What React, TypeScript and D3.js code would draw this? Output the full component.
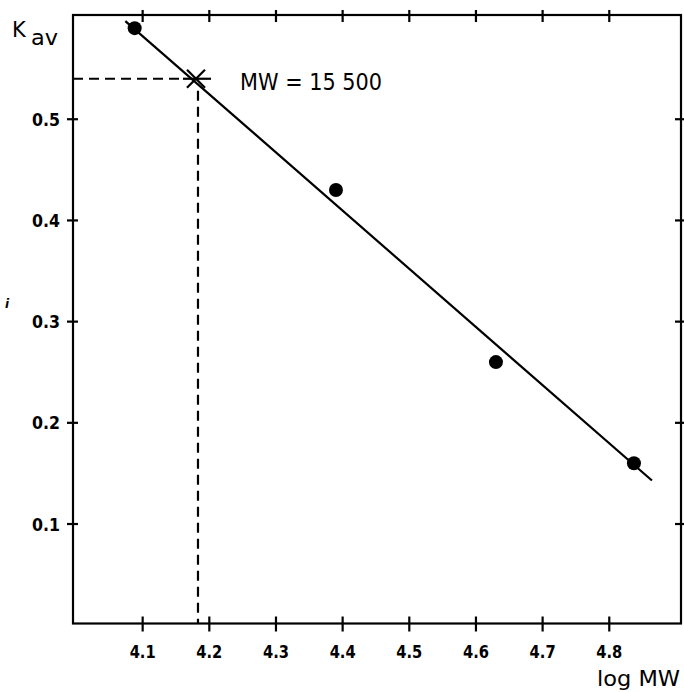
import React from "react";
import * as d3 from "d3";

const xTicks = [4.1, 4.2, 4.3, 4.4, 4.5, 4.6, 4.7, 4.8];
const yTicks = [0.1, 0.2, 0.3, 0.4, 0.5];
const pointsLogMW = [4.088, 4.39, 4.63, 4.837];
const pointsKav = [0.59, 0.43, 0.26, 0.16];
const fitLogMW = [4.074, 4.864];
const fitKav = [0.597, 0.143];
const markLogMW = 4.18;
const markKav = 0.54;
const markLabel = "MW = 15 500";
const xDomain = [3.9955, 4.9076];
const yDomain = [0.0017, 0.603];

const W = 684;
const H = 692;

export default function App() {
  const x = d3.scaleLinear().domain(xDomain).range([73, 681]);
  const y = d3.scaleLinear().domain(yDomain).range([623.5, 15]);
  const x0 = x(xDomain[0]);
  const x1 = x(xDomain[1]);
  const yTop = y(yDomain[1]);
  const yBot = y(yDomain[0]);
  const line = d3
    .line<number>()
    .x((d) => x(fitLogMW[d]))
    .y((d) => y(fitKav[d]));
  const mx = x(markLogMW);
  const my = y(markKav);
  const labelFont = "'DejaVu Sans', 'Liberation Sans', sans-serif";
  const sw = 2.2;
  return (
    <svg
      width={W}
      height={H}
      style={{ position: "absolute", left: 0, top: 0, background: "#fff" }}
    >
      <rect x={0} y={0} width={W} height={H} fill="#fff" />
      {/* frame */}
      <rect
        x={x0}
        y={yTop}
        width={x1 - x0}
        height={yBot - yTop}
        fill="none"
        stroke="#000"
        strokeWidth={sw}
      />
      {/* x ticks bottom and top */}
      {xTicks.map((t) => (
        <g key={"xt" + t}>
          <line x1={x(t)} x2={x(t)} y1={yBot - 7} y2={yBot + 8} stroke="#000" strokeWidth={sw} />
          <line x1={x(t)} x2={x(t)} y1={yTop - 5} y2={yTop + 7} stroke="#000" strokeWidth={sw} />
          <text
            x={x(t)}
            y={658}
            textAnchor="middle"
            fontFamily={labelFont}
            fontWeight="bold"
            fontSize={18}
            textLength={26}
            lengthAdjust="spacingAndGlyphs"
          >
            {t.toFixed(1)}
          </text>
        </g>
      ))}
      {/* y ticks left and right */}
      {yTicks.map((t) => (
        <g key={"yt" + t}>
          <line x1={x0 - 6} x2={x0 + 5} y1={y(t)} y2={y(t)} stroke="#000" strokeWidth={sw} />
          <line x1={x1 - 6} x2={x1 + 3} y1={y(t)} y2={y(t)} stroke="#000" strokeWidth={sw} />
          <text
            x={60}
            y={y(t) + 6.5}
            textAnchor="end"
            fontFamily={labelFont}
            fontWeight="bold"
            fontSize={18}
            textLength={28}
            lengthAdjust="spacingAndGlyphs"
          >
            {t.toFixed(1)}
          </text>
        </g>
      ))}
      {/* dashed guides */}
      <line x1={x0} x2={mx - 12} y1={my} y2={my} stroke="#000" strokeWidth={2.2} strokeDasharray="10,6" />
      <line x1={mx + 2} x2={mx + 2} y1={my + 12} y2={yBot} stroke="#000" strokeWidth={2.2} strokeDasharray="10,6" />
      {/* fit line */}
      <path d={line([0, 1]) || ""} fill="none" stroke="#000" strokeWidth={sw} />
      {/* points */}
      {pointsLogMW.map((v, i) => (
        <circle key={"p" + i} cx={x(v)} cy={y(pointsKav[i])} r={7} fill="#000" />
      ))}
      {/* cross mark */}
      <line x1={mx - 9} x2={mx + 9} y1={my - 9} y2={my + 9} stroke="#000" strokeWidth={sw} />
      <line x1={mx - 9} x2={mx + 9} y1={my + 9} y2={my - 9} stroke="#000" strokeWidth={sw} />
      <line x1={mx - 13} x2={mx + 15} y1={my} y2={my} stroke="#000" strokeWidth={sw} />
      <text
        x={240}
        y={90}
        fontFamily={labelFont}
        fontSize={23}
        textLength={142}
        lengthAdjust="spacingAndGlyphs"
      >
        {markLabel}
      </text>
      {/* axis titles */}
      <text x={12} y={37} fontFamily={labelFont} fontSize={21}>
        K
      </text>
      <text
        x={31}
        y={45}
        fontFamily={labelFont}
        fontSize={22}
        textLength={27}
        lengthAdjust="spacingAndGlyphs"
      >
        av
      </text>
      <text
        x={597}
        y={686}
        fontFamily={labelFont}
        fontSize={21}
        textLength={83}
        lengthAdjust="spacingAndGlyphs"
      >
        log MW
      </text>
      <text x={5} y={308} fontFamily={labelFont} fontSize={12} fontWeight="bold" fontStyle="italic">
        i
      </text>
    </svg>
  );
}
